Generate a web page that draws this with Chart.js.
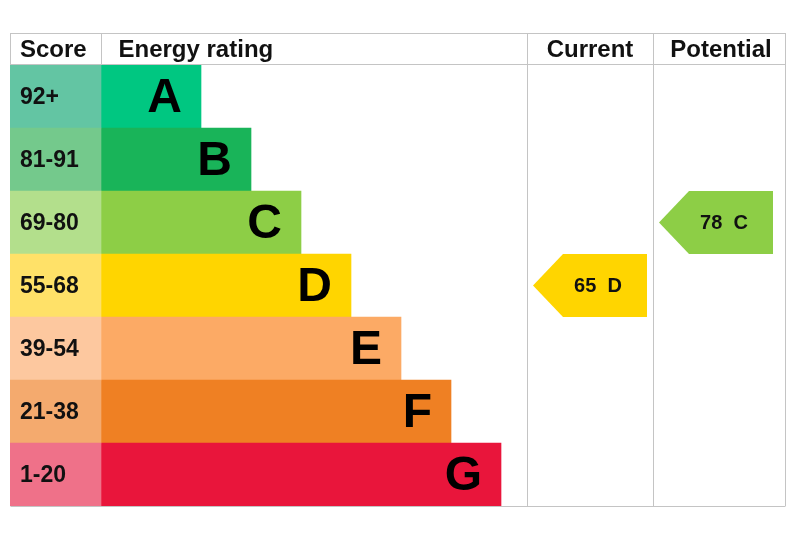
<!DOCTYPE html>
<html>
<head>
<meta charset="utf-8">
<script src="https://cdn.jsdelivr.net/npm/chart.js@4"></script>
<style>
  html, body { margin: 0; padding: 0; background: #fff; }
  #wrap { width: 800px; height: 533px; }
</style>
</head>
<body>
<div id="wrap"><canvas id="epcChart" width="800" height="533"></canvas></div>
<script>
// ratings and their score bands
const ratings = ['A', 'B', 'C', 'D', 'E', 'F', 'G'];
const scoreBands = ['92+', '81-91', '69-80', '55-68', '39-54', '21-38', '1-20'];
const bandMin = [92, 81, 69, 55, 39, 21, 1];
// relative bar lengths (A shortest .. G longest)
const barLengths = [2, 3, 4, 5, 6, 7, 8];
const currentScore = 65;
const potentialScore = 78;

const barColors = ['#00c781', '#19b459', '#8dce46', '#ffd500', '#fcaa65', '#ef8023', '#e9153b'];
const bandColors = ['#63c5a3', '#74c98c', '#b3df8c', '#ffe168', '#fdc89f', '#f4aa6e', '#ef7189'];

const FONT = '"Liberation Sans", Arial, sans-serif';
const SCORE_MIN = -1.82;   // score column sits left of zero
const X_MAX = 13.68;
const CUR_COL = [8.52, 11.04];
const POT_COL = [11.04, 13.68];

function bandIndex(score) {
    for (let i = 0; i < bandMin.length; i++) {
        if (score >= bandMin[i]) return i;
    }
    return bandMin.length - 1;
}

const epcPlugin = {
    id: 'epc',
    afterDatasetsDraw(chart) {
        const ctx = chart.ctx;
        const xs = chart.scales.x;
        const ys = chart.scales.y;
        const area = chart.chartArea;
        const rowH = ys.height / ratings.length;
        const headTop = area.top - 32;

        ctx.save();
        // grid lines
        ctx.strokeStyle = '#c4c4c4';
        ctx.lineWidth = 1;
        const line = (x1, y1, x2, y2) => {
            ctx.beginPath();
            ctx.moveTo(x1, y1);
            ctx.lineTo(x2, y2);
            ctx.stroke();
        };
        const zeroX = Math.round(xs.getPixelForValue(0)) + 0.5;
        const leftX = area.left + 0.5;
        const rightX = Math.round(area.right) + 0.5;
        line(leftX, headTop + 0.5, rightX, headTop + 0.5);
        line(leftX, area.top - 0.5, rightX, area.top - 0.5);
        line(leftX, area.bottom + 0.5, rightX, area.bottom + 0.5);
        line(leftX, headTop, leftX, area.top);
        line(zeroX, headTop, zeroX, area.top);
        [CUR_COL[0], CUR_COL[1]].forEach(v => {
            const px = Math.round(xs.getPixelForValue(v)) + 0.5;
            line(px, headTop, px, area.bottom);
        });
        line(rightX, headTop, rightX, area.bottom);

        // header
        ctx.fillStyle = '#111';
        ctx.textBaseline = 'middle';
        ctx.font = 'bold 24px ' + FONT;
        const hy = headTop + 17;
        ctx.textAlign = 'left';
        ctx.fillText('Score', area.left + 10, hy);
        ctx.fillText('Energy rating', zeroX + 17, hy);
        ctx.textAlign = 'center';
        ctx.fillText('Current', (xs.getPixelForValue(CUR_COL[0]) + xs.getPixelForValue(CUR_COL[1])) / 2, hy);
        ctx.fillText('Potential', (xs.getPixelForValue(POT_COL[0]) + xs.getPixelForValue(POT_COL[1])) / 2 + 2, hy);

        // score bands and rating letters
        ratings.forEach((r, i) => {
            const cy = ys.getPixelForValue(i);
            ctx.fillStyle = '#111';
            ctx.textAlign = 'left';
            ctx.font = 'bold 23px ' + FONT;
            ctx.fillText(scoreBands[i], area.left + 10, cy + 1);
            ctx.fillStyle = '#000';
            ctx.textAlign = 'right';
            ctx.font = 'bold 48px ' + FONT;
            ctx.fillText(r, xs.getPixelForValue(barLengths[i]) - 19, cy + 2);
        });

        // current / potential arrows
        const arrow = (score, col, padR) => {
            const i = bandIndex(score);
            const cy = ys.getPixelForValue(i);
            const y0 = cy - rowH / 2;
            const y1 = cy + rowH / 2;
            const x0 = xs.getPixelForValue(col[0]) + 6;
            const x2 = xs.getPixelForValue(col[1]) - padR;
            const x1 = x0 + 30;
            ctx.fillStyle = barColors[i];
            ctx.beginPath();
            ctx.moveTo(x0, cy);
            ctx.lineTo(x1, y0);
            ctx.lineTo(x2, y0);
            ctx.lineTo(x2, y1);
            ctx.lineTo(x1, y1);
            ctx.closePath();
            ctx.fill();
            ctx.fillStyle = '#111';
            ctx.font = 'bold 20px ' + FONT;
            ctx.textAlign = 'center';
            ctx.fillText(score + '  ' + ratings[i], (x1 + x2) / 2 - 7, cy + 1);
        };
        arrow(currentScore, CUR_COL, 6);
        arrow(potentialScore, POT_COL, 12);
        ctx.restore();
    }
};

new Chart(document.getElementById('epcChart'), {
    type: 'bar',
    data: {
        labels: ratings,
        datasets: [{
            label: 'Score',
            data: ratings.map(() => [SCORE_MIN, 0]),
            backgroundColor: bandColors,
            grouped: false,
            barPercentage: 1,
            categoryPercentage: 1
        }, {
            label: 'Energy rating',
            data: barLengths.map(v => [0, v]),
            backgroundColor: barColors,
            grouped: false,
            barPercentage: 1,
            categoryPercentage: 1
        }]
    },
    options: {
        indexAxis: 'y',
        responsive: false,
        animation: false,
        layout: { padding: { left: 10, right: 15, top: 65, bottom: 27 } },
        scales: {
            x: { display: false, min: SCORE_MIN, max: X_MAX },
            y: { display: false }
        },
        plugins: {
            legend: { display: false },
            tooltip: { enabled: false }
        }
    },
    plugins: [epcPlugin]
});
</script>
</body>
</html>
